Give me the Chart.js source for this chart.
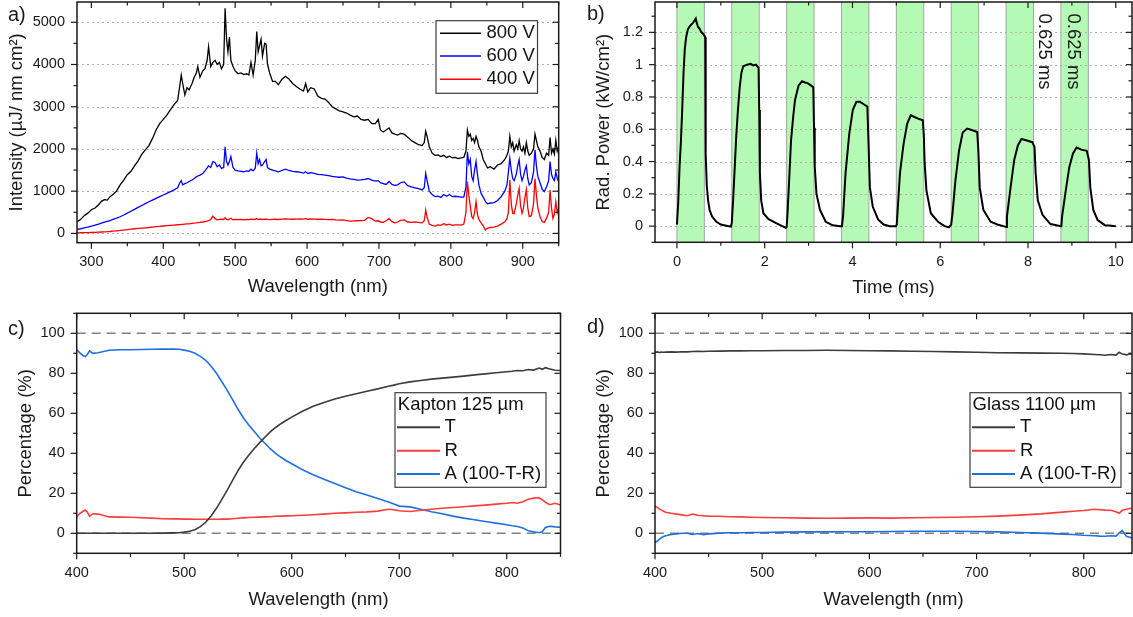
<!DOCTYPE html>
<html>
<head>
<meta charset="utf-8">
<title>Lamp emission, pulse train and film optics</title>
<script src="https://cdn.jsdelivr.net/npm/chart.js@4.4.0/dist/chart.umd.min.js"></script>
<style>
  html, body { margin: 0; padding: 0; background: #fff; }
  #fig { position: relative; width: 1133px; height: 617px; overflow: hidden; background: #fff; }
  #fig canvas { position: absolute; }
</style>
</head>
<body>
<div id="fig">
  <canvas id="pa" width="566" height="305" style="left:0px;top:0px"></canvas>
  <canvas id="pb" width="567" height="305" style="left:566px;top:0px"></canvas>
  <canvas id="pc" width="566" height="312" style="left:0px;top:305px"></canvas>
  <canvas id="pd" width="567" height="312" style="left:566px;top:305px"></canvas>
</div>
<script>
// ---------- a) emission spectra at three lamp voltages ----------
const waveA = [
  280, 285, 290, 295, 300, 305, 310, 314, 318, 322,
  326, 330, 335, 340, 345, 350, 355, 360, 365, 370,
  375, 380, 385, 390, 395, 400, 405, 410, 415, 420,
  423, 425, 427, 430, 433, 436, 440, 443, 446, 448,
  451, 455, 458, 461, 463, 466, 469, 472, 475, 478,
  481, 484, 486, 488, 490, 492, 494, 497, 500, 504,
  508, 512, 516, 519, 522, 525, 528, 530, 532, 534,
  536, 538, 541, 543, 545, 548, 552, 556, 560, 565,
  570, 575, 580, 585, 590, 595, 598, 601, 605, 610,
  615, 620, 625, 630, 635, 640, 645, 650, 655, 660,
  665, 670, 675, 680, 685, 690, 695, 699, 702, 706,
  710, 714, 718, 722, 726, 730, 735, 740, 745, 750,
  755, 760, 763, 765, 767, 770, 774, 778, 782, 786,
  790, 794, 798, 802, 806, 810, 814, 818, 821, 823,
  825, 827, 829, 831, 833, 835, 837, 839, 842, 845,
  848, 851, 855, 860, 865, 870, 875, 878, 880, 882,
  884, 886, 888, 891, 893, 895, 897, 899, 901, 903,
  905, 907, 909, 912, 915, 917, 919, 921, 924, 927,
  930, 933, 936, 938, 940, 942, 944, 946, 948, 950
];
const int800 = [
  280, 330, 420, 480, 560, 600, 680, 760, 800, 790,
  870, 920, 1000, 1150, 1260, 1390, 1470, 1600, 1720, 1870,
  1980, 2080, 2250, 2450, 2600, 2700, 2800, 2930, 3050, 3150,
  3500, 3750, 3550, 3280, 3450, 3400, 3550, 3700, 3800, 3950,
  3700, 3850, 3900, 4100, 4420, 3950, 4050, 4100, 4000, 4050,
  3900, 4000, 5330, 4600, 4300, 4650, 4100, 3950, 3850, 3780,
  3800, 3760, 3780, 3750, 4050, 3750, 4100, 4780, 4300, 4450,
  4600, 4200, 4500, 4480, 4000, 3800, 3600, 3600, 3520, 3650,
  3720, 3650, 3550, 3480, 3420, 3370, 3550, 3350, 3450, 3420,
  3250, 3200, 3180, 3100, 3000, 2950, 2900, 2880, 2850, 2800,
  2760, 2780, 2700, 2680, 2700, 2600, 2600, 2700, 2450, 2400,
  2450, 2500, 2380, 2350, 2330, 2370, 2350, 2280, 2200, 2150,
  2100, 2080, 2150, 2420, 2300, 2050, 1900, 1850, 1860, 1820,
  1850, 1800, 1830, 1790, 1800, 1770, 1790, 1800, 1950, 2450,
  2300, 2350, 2200, 2250, 2150, 2300, 2200, 2050, 1950, 1750,
  1650, 1550, 1580, 1520, 1620, 1650, 1750, 1850, 1950, 2300,
  2050, 2150, 1950, 2100, 2000, 2200, 2000, 1950, 2050, 1900,
  2150, 1950, 1850, 1900, 2000, 2350, 2200, 2050, 1950, 1800,
  1750, 1900, 1850, 2270, 1900, 2000, 1880, 2200, 1950, 2050
];
const int600 = [
  95, 110, 130, 150, 175, 195, 220, 245, 265, 285,
  305, 330, 360, 395, 435, 480, 525, 570, 615, 660,
  705, 750, 790, 830, 870, 910, 950, 990, 1030, 1080,
  1200, 1250, 1150, 1180, 1200, 1230, 1264, 1300, 1340, 1360,
  1380, 1420, 1480, 1550, 1600, 1560, 1700, 1680, 1580, 1620,
  1540, 1560, 2050, 1700, 1620, 1700, 1820, 1560, 1500, 1480,
  1470, 1460, 1480, 1470, 1520, 1480, 1550, 1900, 1650, 1750,
  1600, 1620, 1700, 1750, 1560, 1520, 1500, 1480, 1460, 1490,
  1520, 1490, 1470, 1460, 1450, 1430, 1460, 1420, 1440, 1420,
  1400, 1390, 1380, 1370, 1350, 1340, 1330, 1340, 1310, 1290,
  1280, 1264, 1270, 1280, 1300, 1260, 1240, 1250, 1200, 1180,
  1160, 1230, 1160, 1140, 1150, 1200, 1220, 1130, 1100, 1080,
  1060, 1030, 1080, 1420, 1250, 1000, 920, 870, 880, 850,
  920, 880, 920, 870, 880, 870, 860, 860, 1100, 1930,
  1650, 1750, 1350, 1250, 1500, 1700, 1400, 1150, 950, 860,
  760, 700, 720, 730, 780, 870, 1000, 1150, 1450, 1780,
  1500, 1300, 1250, 1400, 1600, 1750, 1400, 1250, 1350, 1500,
  1600, 1300, 1150, 1200, 1450, 1980, 1600, 1350, 1200, 1050,
  990, 1100, 1250, 1700, 1400, 1300, 1250, 1450, 1300, 1220
];
const int400 = [
  15, 16, 18, 20, 22, 25, 30, 33, 37, 40,
  45, 55, 62, 70, 80, 90, 100, 110, 118, 125,
  132, 140, 150, 160, 168, 175, 183, 190, 198, 205,
  210, 215, 212, 220, 225, 228, 240, 245, 250, 255,
  260, 270, 280, 290, 300, 330, 410, 350, 320, 330,
  340, 330, 370, 330, 320, 340, 360, 320, 330, 325,
  330, 320, 330, 325, 340, 330, 335, 350, 330, 340,
  335, 330, 340, 335, 330, 325, 330, 335, 330, 340,
  345, 340, 335, 340, 345, 340, 350, 335, 345, 340,
  335, 340, 330, 325, 330, 320, 315, 320, 305, 290,
  295, 300, 305, 310, 380, 350, 290, 300, 270, 260,
  300, 350, 280, 250, 270, 310, 320, 270, 260, 275,
  260, 250, 300, 550, 380, 220, 190, 175, 200, 190,
  230, 200, 220, 190, 200, 200, 195, 220, 500, 1225,
  900, 650, 400, 350, 500, 750, 450, 330, 250, 180,
  80, 120, 140, 150, 175, 220, 275, 350, 500, 1265,
  700, 480, 470, 700, 900, 1065, 650, 480, 600, 850,
  1040, 600, 400, 420, 700, 1300, 900, 600, 400, 280,
  260, 355, 500, 1025, 600, 355, 450, 750, 500, 630
];
const xTicksA = [300, 400, 500, 600, 700, 800, 900];
const yTicksA = [0, 1000, 2000, 3000, 4000, 5000];

// ---------- b) radiant power of the pulse train ----------
const timeMs = [
  0, 0.03, 0.06, 0.09, 0.12, 0.15, 0.18, 0.21, 0.25, 0.3, 0.37, 0.43, 0.45, 0.48, 0.52, 0.56, 0.6, 0.625, 0.645, 0.655, 0.68, 0.71, 0.745, 0.8, 0.9, 1.0, 1.1, 1.23,
  1.25, 1.28, 1.32, 1.35, 1.39, 1.43, 1.47, 1.51, 1.6, 1.68, 1.74, 1.8, 1.86, 1.875, 1.89, 1.92, 1.97, 2.08, 2.25, 2.4, 2.48,
  2.5, 2.52, 2.56, 2.6, 2.65, 2.69, 2.77, 2.85, 2.92, 2.975, 3.06, 3.107, 3.124, 3.14, 3.18, 3.26, 3.39, 3.55, 3.72,
  3.76, 3.785, 3.843, 3.926, 4.008, 4.09, 4.17, 4.256, 4.339, 4.364, 4.397, 4.463, 4.587, 4.71, 4.85, 4.99,
  5.01, 5.025, 5.083, 5.165, 5.248, 5.33, 5.413, 5.496, 5.603, 5.628, 5.645, 5.686, 5.785, 5.95, 6.1, 6.2,
  6.25, 6.28, 6.347, 6.43, 6.512, 6.612, 6.736, 6.843, 6.868, 6.9, 6.983, 7.149, 7.3, 7.438,
  7.5, 7.52, 7.603, 7.686, 7.769, 7.851, 7.975, 8.099, 8.149, 8.174, 8.223, 8.33, 8.512, 8.65, 8.74,
  8.76, 8.777, 8.86, 8.942, 9.025, 9.107, 9.215, 9.339, 9.388, 9.42, 9.488, 9.587, 9.752, 9.85, 10.0
];
const radPower = [
  0.01, 0.15, 0.37, 0.52, 0.72, 0.95, 1.1, 1.17, 1.22, 1.24, 1.26, 1.285, 1.26, 1.235, 1.22, 1.2, 1.19, 1.18, 1.17, 0.45, 0.25, 0.16, 0.1, 0.06, 0.027, 0.01, 0.004, -0.003,
  0.02, 0.16, 0.38, 0.55, 0.72, 0.86, 0.95, 0.99, 1.0, 1.005, 0.995, 1.0, 0.98, 0.72, 0.33, 0.16, 0.08, 0.045, 0.02, 0.0, -0.01,
  -0.005, 0.08, 0.3, 0.53, 0.68, 0.78, 0.87, 0.897, 0.89, 0.886, 0.87, 0.86, 0.61, 0.37, 0.2, 0.1, 0.027, 0.005, 0.0,
  0.0, 0.06, 0.33, 0.57, 0.72, 0.77, 0.77, 0.755, 0.74, 0.53, 0.24, 0.12, 0.04, 0.01, 0.0, 0.0,
  0.01, 0.08, 0.33, 0.51, 0.635, 0.687, 0.676, 0.666, 0.656, 0.55, 0.39, 0.22, 0.08, 0.027, 0.0, -0.008,
  0.01, 0.08, 0.285, 0.47, 0.58, 0.604, 0.594, 0.583, 0.47, 0.24, 0.1, 0.027, 0.01, 0.0,
  -0.005, 0.06, 0.24, 0.41, 0.5, 0.54, 0.53, 0.52, 0.49, 0.33, 0.16, 0.07, 0.013, 0.005, 0.0,
  0.0, 0.06, 0.22, 0.367, 0.45, 0.487, 0.474, 0.466, 0.41, 0.24, 0.1, 0.037, 0.006, 0.004, 0.0
];
const pulseStarts = [0, 1.25, 2.5, 3.75, 5, 6.25, 7.5, 8.75];
const pulseWidth = 0.625;
const pulseNotes = [{ t: 8.36, text: '0.625 ms' }, { t: 9.02, text: '0.625 ms' }];
const xTicksB = [0, 2, 4, 6, 8, 10];
const yTicksB = [0, 0.2, 0.4, 0.6, 0.8, 1, 1.2];

// ---------- c) Kapton 125 µm: transmission, reflection, absorption ----------
const waveC = [
  400, 403, 406, 408, 410, 412, 415, 420, 430, 440,
  450, 460, 470, 480, 490, 495, 500, 505, 510, 515,
  520, 525, 530, 535, 540, 545, 550, 555, 560, 565,
  570, 575, 580, 585, 590, 595, 600, 610, 620, 630,
  640, 650, 660, 670, 680, 690, 695, 700, 710, 720,
  730, 740, 750, 760, 770, 780, 790, 800, 805, 810,
  815, 820, 825, 830, 833, 836, 840, 845, 850
];
const kaptonT = [
  0, 0, 0, 0, 0, 0, 0, 0, 0, 0,
  0, 0, 0.05, 0.1, 0.2, 0.3, 0.6, 1.0, 1.8, 3.3,
  5.5, 8.7, 12.5, 17.0, 21.6, 26.5, 31.3, 35.5, 39.0, 42.3,
  45.2, 48.0, 50.7, 52.9, 54.8, 56.5, 58.1, 61.0, 63.5, 65.4,
  67.1, 68.5, 69.8, 71.0, 72.2, 73.5, 74.1, 74.8, 75.7, 76.4,
  77.1, 77.6, 78.1, 78.6, 79.2, 79.7, 80.3, 80.8, 81.0, 81.4,
  81.3, 81.9, 81.6, 82.6, 82.0, 82.8, 82.2, 81.5, 81.4
];
const kaptonR = [
  8.3, 10.0, 11.0, 11.6, 10.5, 8.5, 9.8, 9.6, 8.2, 8.1,
  8.0, 7.8, 7.6, 7.3, 7.2, 7.2, 7.1, 7.1, 7.0, 7.0,
  7.0, 7.0, 7.0, 7.1, 7.1, 7.3, 7.5, 7.7, 7.9, 8.0,
  8.1, 8.2, 8.3, 8.5, 8.6, 8.7, 8.8, 9.0, 9.3, 9.6,
  10.0, 10.2, 10.5, 10.7, 11.1, 12.0, 11.8, 11.3, 10.9, 11.5,
  12.0, 12.5, 12.9, 13.3, 13.7, 14.1, 14.6, 15.0, 15.4, 15.0,
  15.8, 17.0, 17.6, 17.8, 16.8, 15.5, 14.3, 15.0, 14.2
];
const kaptonA = [
  91.7, 90.2, 88.8, 88.4, 89.5, 91.2, 90.0, 90.3, 91.5, 91.8,
  91.8, 91.9, 92.0, 92.1, 92.1, 92.0, 91.6, 91.0, 90.0, 88.5,
  86.5, 83.5, 80.0, 75.8, 71.5, 66.8, 62.0, 57.8, 54.2, 51.0,
  47.8, 45.0, 42.3, 40.0, 38.0, 36.3, 34.8, 31.8, 29.3, 27.0,
  24.9, 22.8, 20.8, 19.1, 17.4, 15.6, 14.6, 13.6, 13.2, 12.0,
  10.8, 9.8, 8.6, 7.6, 6.8, 5.9, 5.1, 4.3, 3.8, 3.4,
  2.7, 1.3, 0.8, 0.3, 0.8, 2.9, 3.5, 3.2, 3.0
];

// ---------- d) Glass 1100 µm ----------
const waveD = [
  400, 402, 404, 406, 408, 410, 415, 420, 425, 430,
  435, 440, 445, 450, 460, 470, 480, 490, 500, 520,
  540, 560, 580, 600, 620, 640, 660, 680, 700, 720,
  740, 760, 780, 790, 800, 810, 815, 820, 825, 830,
  833, 836, 840, 843, 845
];
const glassT = [
  90.5, 90.7, 90.4, 90.6, 90.5, 90.6, 90.7, 90.6, 90.8, 90.7,
  90.9, 91.0, 90.9, 91.0, 91.1, 91.2, 91.2, 91.3, 91.3, 91.4,
  91.4, 91.5, 91.4, 91.3, 91.2, 91.0, 90.9, 90.7, 90.5, 90.3,
  90.2, 90.1, 90.0, 89.9, 89.7, 89.4, 89.3, 89.0, 89.4, 89.1,
  90.5, 89.6, 89.2, 89.8, 89.5
];
const glassR = [
  13.6, 13.0, 12.2, 11.6, 11.0, 10.5, 10.0, 9.6, 9.2, 8.8,
  9.6, 9.0, 8.8, 8.6, 8.5, 8.3, 8.2, 8.0, 7.9, 7.8,
  7.6, 7.5, 7.6, 7.7, 7.6, 7.8, 7.9, 8.0, 8.3, 8.6,
  9.1, 9.7, 10.6, 11.0, 11.4, 12.0, 11.8, 11.6, 11.5, 10.8,
  10.0, 11.5, 12.0, 12.4, 12.5
];
const glassA = [
  -4.6, -4.0, -3.0, -2.2, -1.6, -1.2, -0.6, -0.3, 0.0, 0.0,
  -0.6, -0.1, -0.7, -0.3, 0.1, 0.3, 0.3, 0.4, 0.4, 0.6,
  0.7, 0.7, 0.8, 0.8, 0.9, 1.0, 1.0, 1.0, 0.9, 0.7,
  0.4, 0.1, -0.4, -0.6, -1.0, -1.2, -1.4, -1.5, -1.2, -1.4,
  0.2, 1.3, -1.6, -2.0, -2.3
];
const xTicksCD = [400, 500, 600, 700, 800];
const yTicksCD = [0, 20, 40, 60, 80, 100];
const refLevels = [0, 100];

// ---------- drawing helpers ----------
const FONT = "'Liberation Sans', Arial, Helvetica, sans-serif";
Chart.defaults.font.family = FONT;
Chart.defaults.font.size = 14.5;
Chart.defaults.color = '#1a1a1a';

const pts = (xs, ys) => xs.map((x, i) => ({ x: x, y: ys[i] }));
const multiples = (min, max, step) => {
  const out = [];
  for (let k = Math.ceil(min / step - 1e-9); k * step <= max + 1e-9; k++) out.push(+(k * step).toFixed(6));
  return out;
};
const isMultiple = (v, step) => Math.abs(v / step - Math.round(v / step)) < 1e-6;

// Origin-style box: dotted grid, shaded pulses, dashed reference levels,
// closed frame with ticks (outside on left/bottom, inside on top/right),
// axis titles, panel letter, legend box and rotated notes.
const originFrame = {
  id: 'originFrame',
  beforeDatasetsDraw(chart, args, o) {
    const { ctx, chartArea: a, scales: { x, y } } = chart;
    ctx.save();
    if (o.bands) {
      for (const s of o.bands.starts) {
        const x0 = x.getPixelForValue(s), x1 = x.getPixelForValue(s + o.bands.width);
        ctx.fillStyle = '#b4fab4';
        ctx.fillRect(x0, a.top, x1 - x0, a.bottom - a.top);
        ctx.strokeStyle = '#a2a8a2';
        ctx.lineWidth = 1;
        for (const px of [x0, x1]) {
          ctx.beginPath(); ctx.moveTo(px, a.top); ctx.lineTo(px, a.bottom); ctx.stroke();
        }
      }
    }
    if (o.gridY) {
      ctx.strokeStyle = '#b0b0b0';
      ctx.lineWidth = 1;
      ctx.setLineDash([2, 3]);
      for (const v of o.gridY) {
        const py = Math.round(y.getPixelForValue(v)) + 0.5;
        ctx.beginPath(); ctx.moveTo(a.left, py); ctx.lineTo(a.right, py); ctx.stroke();
      }
    }
    if (o.refY) {
      ctx.strokeStyle = '#808080';
      ctx.lineWidth = 1.6;
      ctx.setLineDash([9, 6]);
      for (const v of o.refY) {
        const py = y.getPixelForValue(v);
        ctx.beginPath(); ctx.moveTo(a.left, py); ctx.lineTo(a.right, py); ctx.stroke();
      }
    }
    ctx.restore();
  },
  afterDraw(chart, args, o) {
    const { ctx, chartArea: a, scales: { x, y } } = chart;
    const ox = o.origin[0], oy = o.origin[1];
    ctx.save();
    ctx.setLineDash([]);
    ctx.strokeStyle = '#1a1a1a';
    ctx.lineWidth = 1.5;
    ctx.strokeRect(a.left, a.top, a.right - a.left, a.bottom - a.top);

    const seg = (x1, y1, x2, y2) => { ctx.beginPath(); ctx.moveTo(x1, y1); ctx.lineTo(x2, y2); ctx.stroke(); };
    ctx.lineWidth = 1.2;
    for (const v of multiples(x.min, x.max, o.xMinor)) {
      const L = isMultiple(v, o.xMajor) ? 6 : 3.5;
      const px = x.getPixelForValue(v);
      seg(px, a.bottom, px, a.bottom + L);
      seg(px, a.top, px, a.top + L);
    }
    for (const v of multiples(y.min, y.max, o.yMinor)) {
      const L = isMultiple(v, o.yMajor) ? 6 : 3.5;
      const py = y.getPixelForValue(v);
      seg(a.left, py, a.left - L, py);
      seg(a.right, py, a.right - L, py);
    }

    ctx.fillStyle = '#1a1a1a';
    // axis titles
    ctx.font = '18.5px ' + FONT;
    ctx.textAlign = 'center';
    ctx.textBaseline = 'middle';
    ctx.fillText(o.xTitle, (a.left + a.right) / 2, o.xTitleY - oy);
    ctx.save();
    ctx.translate(o.yTitleX - ox, (a.top + a.bottom) / 2);
    ctx.rotate(-Math.PI / 2);
    ctx.fillText(o.yTitle, 0, 0);
    ctx.restore();

    // panel letter
    ctx.font = '20px ' + FONT;
    ctx.textAlign = 'left';
    ctx.fillText(o.letter[0], o.letter[1] - ox, o.letter[2] - oy);

    // rotated notes on the pulse plot
    if (o.notes) {
      ctx.font = '18.5px ' + FONT;
      for (const n of o.notes) {
        ctx.save();
        ctx.translate(x.getPixelForValue(n.t), o.notesTop - oy);
        ctx.rotate(Math.PI / 2);
        ctx.textAlign = 'left';
        ctx.textBaseline = 'middle';
        ctx.fillText(n.text, 0, 0);
        ctx.restore();
      }
    }

    // legend
    const lg = o.legend;
    if (lg) {
      const [bx0, by0, bx1, by1] = lg.box;
      ctx.fillStyle = '#ffffff';
      ctx.fillRect(bx0 - ox, by0 - oy, bx1 - bx0, by1 - by0);
      ctx.strokeStyle = '#3c3c3c';
      ctx.lineWidth = 1.2;
      ctx.strokeRect(bx0 - ox, by0 - oy, bx1 - bx0, by1 - by0);
      ctx.font = '18.5px ' + FONT;
      ctx.textAlign = 'left';
      ctx.textBaseline = 'middle';
      ctx.fillStyle = '#111';
      if (lg.title) ctx.fillText(lg.title[0], lg.title[1] - ox, lg.title[2] - oy);
      const ds = chart.data.datasets;
      lg.rows.forEach((r, i) => {
        ctx.strokeStyle = ds[i].borderColor;
        ctx.lineWidth = lg.lineWidth;
        seg(lg.lineX[0] - ox, r[1] - oy, lg.lineX[1] - ox, r[1] - oy);
        ctx.fillStyle = '#111';
        ctx.fillText(r[0], lg.textX - ox, r[1] - oy);
      });
    }
    ctx.restore();
  }
};

function panel(id, p) {
  return new Chart(document.getElementById(id), {
    type: 'line',
    data: {
      datasets: p.series.map(s => ({
        data: pts(s.x, s.y),
        borderColor: s.color,
        borderWidth: s.width,
        pointRadius: 0,
        tension: 0,
        fill: false
      }))
    },
    options: {
      responsive: false,
      animation: false,
      devicePixelRatio: 1,
      events: [],
      layout: { padding: p.pad, autoPadding: false },
      plugins: { legend: { display: false }, tooltip: { enabled: false }, originFrame: p.frame },
      scales: {
        x: {
          type: 'linear', min: p.xRange[0], max: p.xRange[1],
          afterFit: s => { s.height = 50; s.paddingLeft = 0; s.paddingRight = 0; },
          afterBuildTicks: s => { s.ticks = p.xTicks.map(v => ({ value: v })); },
          ticks: { padding: p.xPad, maxRotation: 0, autoSkip: false, callback: v => String(v) },
          grid: { display: false, drawTicks: false },
          border: { display: false }
        },
        y: {
          type: 'linear', min: p.yRange[0], max: p.yRange[1],
          afterFit: s => { s.width = p.yWidth; s.paddingTop = 0; s.paddingBottom = 0; },
          afterBuildTicks: s => { s.ticks = p.yTicks.map(v => ({ value: v })); },
          ticks: { padding: 12, autoSkip: false, callback: v => String(v) },
          grid: { display: false, drawTicks: false },
          border: { display: false }
        }
      }
    },
    plugins: [originFrame]
  });
}

// a)
panel('pa', {
  series: [
    { x: waveA, y: int800, color: '#000000', width: 1.3 },
    { x: waveA, y: int600, color: '#0000ff', width: 1.3 },
    { x: waveA, y: int400, color: '#ff0000', width: 1.3 }
  ],
  pad: { left: 7, right: 7.3, top: 2, bottom: 12.3 },
  yWidth: 70, xPad: 10.5,
  xRange: [280, 950], yRange: [-220, 5480],
  xTicks: xTicksA, yTicks: yTicksA,
  frame: {
    origin: [0, 0],
    xMajor: 100, xMinor: 50, yMajor: 1000, yMinor: 500,
    gridY: yTicksA,
    xTitle: 'Wavelength (nm)', xTitleY: 287,
    yTitle: 'Intensity (µJ/ nm cm²)', yTitleX: 17,
    letter: ['a)', 8, 15],
    legend: {
      box: [436, 20.7, 537.5, 93.3],
      lineX: [440, 481], textX: 486.5, lineWidth: 1.5,
      rows: [['800 V', 33.3], ['600 V', 56], ['400 V', 79.3]]
    }
  }
});

// b)
panel('pb', {
  series: [{ x: timeMs, y: radPower, color: '#000000', width: 2 }],
  pad: { left: 9, right: 1, top: 2, bottom: 12.7 },
  yWidth: 80, xPad: 10.5,
  xRange: [-0.5, 10.37], yRange: [-0.1, 1.388],
  xTicks: xTicksB, yTicks: yTicksB,
  frame: {
    origin: [566, 0],
    xMajor: 2, xMinor: 1, yMajor: 0.2, yMinor: 0.1,
    gridY: yTicksB,
    bands: { starts: pulseStarts, width: pulseWidth },
    notes: pulseNotes, notesTop: 13.5,
    xTitle: 'Time (ms)', xTitleY: 288,
    yTitle: 'Rad. Power (kW/cm²)', yTitleX: 604,
    letter: ['b)', 587, 14]
  }
});

// c)
panel('pc', {
  series: [
    { x: waveC, y: kaptonT, color: '#3c3c3c', width: 1.6 },
    { x: waveC, y: kaptonR, color: '#ff3c3c', width: 1.6 },
    { x: waveC, y: kaptonA, color: '#2070e0', width: 1.6 }
  ],
  pad: { left: 6.7, right: 5.5, top: 8.3, bottom: 13.7 },
  yWidth: 70, xPad: 11,
  xRange: [400, 850], yRange: [-10, 110],
  xTicks: xTicksCD, yTicks: yTicksCD,
  frame: {
    origin: [0, 305],
    xMajor: 100, xMinor: 50, yMajor: 20, yMinor: 10,
    refY: refLevels,
    xTitle: 'Wavelength (nm)', xTitleY: 600,
    yTitle: 'Percentage (%)', yTitleX: 26,
    letter: ['c)', 8, 329.5],
    legend: {
      box: [395, 392.7, 546, 487.3],
      title: ['Kapton 125 µm', 397.8, 405.3],
      lineX: [397, 440], textX: 444.5, lineWidth: 2,
      rows: [['T', 427.3], ['R', 450.7], ['A (100-T-R)', 474]]
    }
  }
});

// d)
panel('pd', {
  series: [
    { x: waveD, y: glassT, color: '#3c3c3c', width: 1.6 },
    { x: waveD, y: glassR, color: '#ff3c3c', width: 1.6 },
    { x: waveD, y: glassA, color: '#2070e0', width: 1.6 }
  ],
  pad: { left: 9, right: 1, top: 8.3, bottom: 13.7 },
  yWidth: 80, xPad: 11,
  xRange: [400, 845], yRange: [-10, 110],
  xTicks: xTicksCD, yTicks: yTicksCD,
  frame: {
    origin: [566, 305],
    xMajor: 100, xMinor: 50, yMajor: 20, yMinor: 10,
    refY: refLevels,
    xTitle: 'Wavelength (nm)', xTitleY: 600,
    yTitle: 'Percentage (%)', yTitleX: 604,
    letter: ['d)', 587, 327.5],
    legend: {
      box: [970, 392.7, 1121, 487.3],
      title: ['Glass 1100 µm', 972.6, 405.3],
      lineX: [972, 1015], textX: 1020, lineWidth: 2,
      rows: [['T', 427.3], ['R', 450.7], ['A (100-T-R)', 474]]
    }
  }
});
</script>
</body>
</html>
